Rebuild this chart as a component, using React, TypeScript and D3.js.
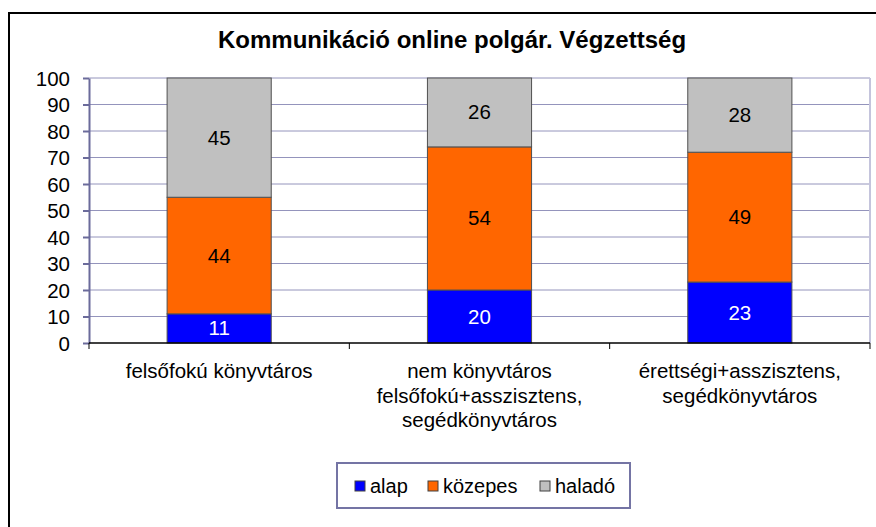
import React, { useEffect, useRef } from "react";
import * as d3 from "d3";

const categories = [
    ["felsőfokú könyvtáros"],
    ["nem könyvtáros", "felsőfokú+asszisztens,", "segédkönyvtáros"],
    ["érettségi+asszisztens,", "segédkönyvtáros"],
];
const seriesNames = ["alap", "közepes", "haladó"];
const alap = [11, 20, 23];
const kozepes = [44, 54, 49];
const halado = [45, 26, 28];
const yTicks = [0, 10, 20, 30, 40, 50, 60, 70, 80, 90, 100];
const colors = ["#0000FF", "#FF6600", "#C0C0C0"];
const labelColors = ["#FFFFFF", "#000000", "#000000"];

const W = 876;
const H = 527;

export default function App() {
    const svgRef = useRef(null);

    useEffect(() => {
        const svg = d3.select(svgRef.current);
        svg.selectAll("*").remove();
        const font = "'Liberation Sans', Arial, sans-serif";

        const left = 89, right = 870, top = 78, bottom = 343;

        // outer chart border (cropped on right/bottom)
        svg.append("rect")
            .attr("x", 9).attr("y", 13)
            .attr("width", W + 20).attr("height", H + 20)
            .attr("fill", "#fff").attr("stroke", "#000").attr("stroke-width", 2);

        svg.append("text")
            .attr("x", 452).attr("y", 48)
            .attr("text-anchor", "middle")
            .style("font-family", font)
            .style("font-size", "24px")
            .style("font-weight", "bold")
            .text("Kommunikáció online polgár. Végzettség");

        const x = d3.scaleBand<number>()
            .domain(d3.range(categories.length))
            .range([left, right])
            .paddingInner(0.6)
            .paddingOuter(0.3);
        const y = d3.scaleLinear().domain([0, 100]).range([bottom, top]);

        // gridlines
        svg.append("g").selectAll("line")
            .data(yTicks.filter(t => t > 0))
            .join("line")
            .attr("x1", left).attr("x2", right)
            .attr("y1", d => y(d)).attr("y2", d => y(d))
            .attr("stroke", "#9494bc").attr("stroke-width", 1);

        // plot area right border
        svg.append("line")
            .attr("x1", right).attr("x2", right)
            .attr("y1", top).attr("y2", bottom)
            .attr("stroke", "#c4c4dc").attr("stroke-width", 2);

        // y axis
        const yAxis = svg.append("g")
            .attr("transform", `translate(${left},0)`)
            .call(d3.axisLeft(y).tickValues(yTicks).tickSize(6).tickSizeOuter(0));
        yAxis.select(".domain").attr("stroke", "#6b6b9b").attr("stroke-width", 2);
        yAxis.selectAll(".tick line").attr("stroke", "#6b6b9b").attr("stroke-width", 2);
        yAxis.selectAll("text")
            .attr("x", -19)
            .attr("dy", "0.36em")
            .attr("fill", "#000")
            .style("font-family", font)
            .style("font-size", "20.5px");

        // stacked bars
        const rows = categories.map((_, i) => ({ i, alap: alap[i], kozepes: kozepes[i], halado: halado[i] }));
        const stack = d3.stack<any>().keys(["alap", "kozepes", "halado"])(rows);

        stack.forEach((layer, k) => {
            const g = svg.append("g");
            g.selectAll("rect")
                .data(layer)
                .join("rect")
                .attr("x", d => x(d.data.i))
                .attr("y", d => y(d[1]))
                .attr("width", x.bandwidth())
                .attr("height", d => y(d[0]) - y(d[1]))
                .attr("fill", colors[k])
                .attr("stroke", "#505050")
                .attr("stroke-width", 1);
            g.selectAll("text")
                .data(layer)
                .join("text")
                .attr("x", d => x(d.data.i) + x.bandwidth() / 2)
                .attr("y", d => (y(d[0]) + y(d[1])) / 2 + 7)
                .attr("text-anchor", "middle")
                .attr("fill", labelColors[k])
                .style("font-family", font)
                .style("font-size", "20.5px")
                .text(d => d[1] - d[0]);
        });

        // x axis
        svg.append("line")
            .attr("x1", left).attr("x2", right)
            .attr("y1", bottom).attr("y2", bottom)
            .attr("stroke", "#000").attr("stroke-width", 1.5);
        const step = (right - left) / categories.length;
        svg.append("g").selectAll("line")
            .data(d3.range(categories.length + 1))
            .join("line")
            .attr("x1", d => left + d * step).attr("x2", d => left + d * step)
            .attr("y1", bottom).attr("y2", bottom + 6)
            .attr("stroke", "#000").attr("stroke-width", 1);

        const xl = svg.append("g");
        categories.forEach((lines, i) => {
            const t = xl.append("text")
                .attr("text-anchor", "middle")
                .style("font-family", font)
                .style("font-size", "20.5px");
            lines.forEach((ln, j) => {
                t.append("tspan")
                    .attr("x", x(i) + x.bandwidth() / 2)
                    .attr("y", 378 + j * 24.5)
                    .text(ln);
            });
        });

        // legend
        svg.append("rect")
            .attr("x", 337).attr("y", 463)
            .attr("width", 293).attr("height", 45)
            .attr("fill", "#fff").attr("stroke", "#7474a4").attr("stroke-width", 2);
        const legendX = [355, 428, 540];
        seriesNames.forEach((name, k) => {
            svg.append("rect")
                .attr("x", legendX[k]).attr("y", 481)
                .attr("width", 10).attr("height", 10)
                .attr("fill", colors[k]).attr("stroke", "#404040").attr("stroke-width", 1);
            svg.append("text")
                .attr("x", legendX[k] + 15).attr("y", 493)
                .style("font-family", font)
                .style("font-size", "20px")
                .text(name);
        });
    }, []);

    return <svg ref={svgRef} width={W} height={H} style={{ position: "absolute", left: 0, top: 0 }} />;
}
